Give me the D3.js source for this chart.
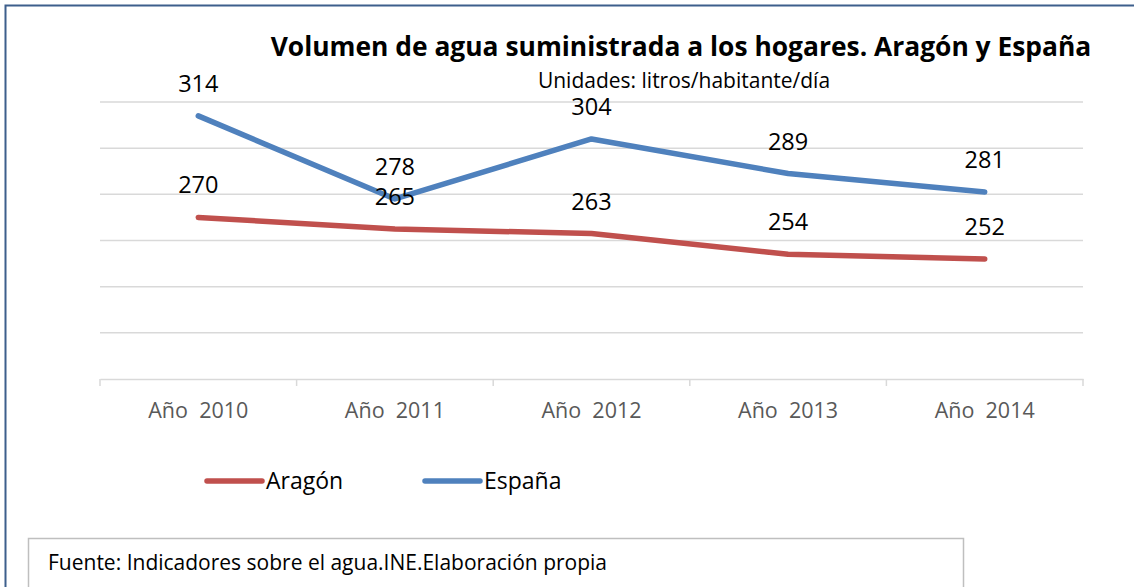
<!DOCTYPE html>
<html>
<head>
<meta charset="utf-8">
<script src="https://cdn.jsdelivr.net/npm/d3@7"></script>
<style>
  body { margin: 0; background: #fff; }
  svg text { font-family: "Open Sans", sans-serif; }
</style>
</head>
<body>
<svg id="chart" width="1134" height="587"></svg>
<script>
// chart data
const years = ["Año  2010", "Año  2011", "Año  2012", "Año  2013", "Año  2014"];
const aragon = [270, 265, 263, 254, 252];
const espana = [314, 278, 304, 289, 281];
const gridTicks = [200, 220, 240, 260, 280, 300, 320];

const svg = d3.select("#chart");

// outer frame
svg.append("rect")
  .attr("x", 5.5).attr("y", 5.5)
  .attr("width", 1140).attr("height", 600)
  .attr("fill", "#fff")
  .attr("stroke", "#3d5f8c")
  .attr("stroke-width", 2);

const plotLeft = 100, plotRight = 1083, plotTop = 102, plotBottom = 379;

const x = d3.scaleBand()
  .domain(years)
  .range([plotLeft, plotRight]);

const y = d3.scaleLinear()
  .domain([200, 320])
  .range([plotBottom, plotTop]);

// gridlines
svg.append("g")
  .selectAll("line")
  .data(gridTicks.slice(1))
  .enter()
  .append("line")
  .attr("x1", plotLeft).attr("x2", plotRight)
  .attr("y1", d => y(d)).attr("y2", d => y(d))
  .attr("stroke", "#d9d9d9")
  .attr("stroke-width", 1.5);

// x axis
const xAxis = svg.append("g")
  .attr("transform", "translate(0," + plotBottom + ")")
  .call(d3.axisBottom(x).tickSize(0).tickPadding(24));
xAxis.select(".domain").attr("stroke", "#d9d9d9").attr("stroke-width", 1.5);
xAxis.selectAll("text")
  .attr("fill", "#595959")
  .style("font-size", "21.5px")
  .style("white-space", "pre");

// category boundary ticks
const bounds = years.map(d => x(d)).concat([plotRight]);
xAxis.selectAll(".bound")
  .data(bounds)
  .enter()
  .append("line")
  .attr("x1", d => d).attr("x2", d => d)
  .attr("y1", 0).attr("y2", 7)
  .attr("stroke", "#d9d9d9")
  .attr("stroke-width", 1.5);

const cx = d => x(d) + x.bandwidth() / 2;

const line = d3.line()
  .x((d, i) => cx(years[i]))
  .y(d => y(d));

const series = [
  { name: "Aragón", values: aragon, color: "#c0504d" },
  { name: "España", values: espana, color: "#4f81bd" }
];

series.forEach(s => {
  svg.append("path")
    .datum(s.values)
    .attr("d", line)
    .attr("fill", "none")
    .attr("stroke", s.color)
    .attr("stroke-width", 5.5)
    .attr("stroke-linecap", "round")
    .attr("stroke-linejoin", "round");
});

series.forEach(s => {
  svg.append("g")
    .selectAll("text")
    .data(s.values)
    .enter()
    .append("text")
    .attr("x", (d, i) => cx(years[i]))
    .attr("y", d => y(d) - 24)
    .attr("text-anchor", "middle")
    .attr("fill", "#000")
    .style("font-size", "23.5px")
    .text(d => d);
});

// title
svg.append("text")
  .attr("x", 681).attr("y", 56)
  .attr("text-anchor", "middle")
  .style("font-size", "26.4px")
  .style("font-weight", "bold")
  .text("Volumen de agua suministrada a los hogares. Aragón y España");

svg.append("text")
  .attr("x", 684).attr("y", 88)
  .attr("text-anchor", "middle")
  .style("font-size", "21px")
  .text("Unidades: litros/habitante/día");

// legend
const legendX = [207, 425];
series.forEach((s, i) => {
  const g = svg.append("g").attr("transform", "translate(" + legendX[i] + ",481)");
  g.append("line")
    .attr("x1", 0).attr("x2", 55)
    .attr("stroke", s.color)
    .attr("stroke-width", 5.5)
    .attr("stroke-linecap", "round");
  g.append("text")
    .attr("x", 59).attr("y", 8)
    .style("font-size", "23px")
    .text(s.name);
});

// source box
svg.append("rect")
  .attr("x", 28.5).attr("y", 538.5)
  .attr("width", 935).attr("height", 80)
  .attr("fill", "#fff")
  .attr("stroke", "#bfbfbf")
  .attr("stroke-width", 1.5);

svg.append("text")
  .attr("x", 48).attr("y", 570)
  .style("font-size", "21px")
  .text("Fuente: Indicadores sobre el agua.INE.Elaboración propia");
</script>
</body>
</html>
